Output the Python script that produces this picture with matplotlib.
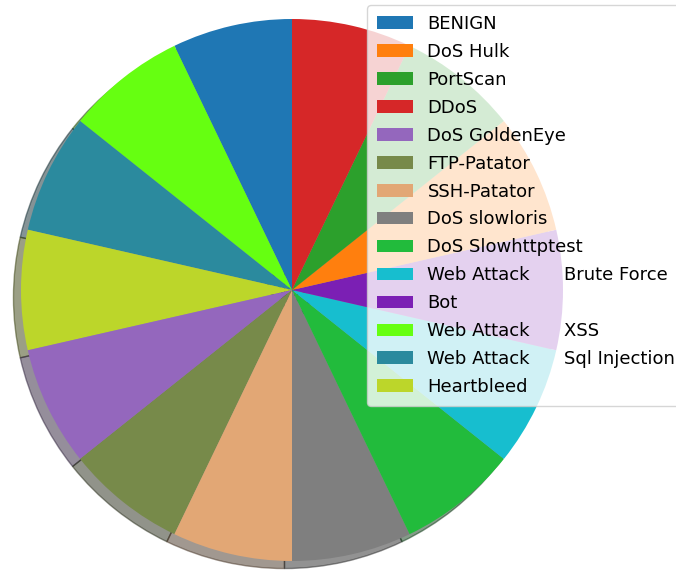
import matplotlib.pyplot as plt

# Legend order and colours
labels = ["BENIGN", "DoS Hulk", "PortScan", "DDoS", "DoS GoldenEye", "FTP-Patator",
          "SSH-Patator", "DoS slowloris", "DoS Slowhttptest",
          "Web Attack      Brute Force", "Bot", "Web Attack      XSS",
          "Web Attack      Sql Injection", "Heartbleed"]
colors = ["#1f77b4", "#ff7f0e", "#2ca02c", "#d62728", "#9467bd", "#778a4a",
          "#e2a775", "#7f7f7f", "#22bb3c", "#17becf", "#7b1fb4", "#66ff11",
          "#2b8a9e", "#bcd62a"]

# Order of wedges around the pie (counter-clockwise from 12 o'clock)
pie_order = ["BENIGN", "Web Attack      XSS", "Web Attack      Sql Injection",
             "Heartbleed", "DoS GoldenEye", "FTP-Patator", "SSH-Patator",
             "DoS slowloris", "DoS Slowhttptest", "Web Attack      Brute Force",
             "Bot", "DoS Hulk", "PortScan", "DDoS"]
shares = [1, 1, 1, 1, 1, 1, 1, 1, 1, 1, 1, 1, 1, 1]

W, H = 676, 571
fig = plt.figure(figsize=(W / 100, H / 100), dpi=100)

cx, cy, r = 292, 290, 271
lim = 1.05
half = r * lim
ax = fig.add_axes([(cx - half) / W, (H - cy - half) / H, 2 * half / W, 2 * half / H])

color_of = dict(zip(labels, colors))
wedges, _ = ax.pie(shares, colors=[color_of[n] for n in pie_order],
                   startangle=90, shadow=True)
ax.set_xlim(-lim, lim)
ax.set_ylim(-lim, lim)
ax.set_aspect("equal")

handle_of = dict(zip(pie_order, wedges))
fig.legend([handle_of[n] for n in labels], labels, loc="upper left",
           bbox_to_anchor=(367 / W, 1 - 5 / H), borderaxespad=0, fontsize=13,
           labelspacing=0.55, borderpad=0.55)

fig.savefig("out.png", dpi=100)
